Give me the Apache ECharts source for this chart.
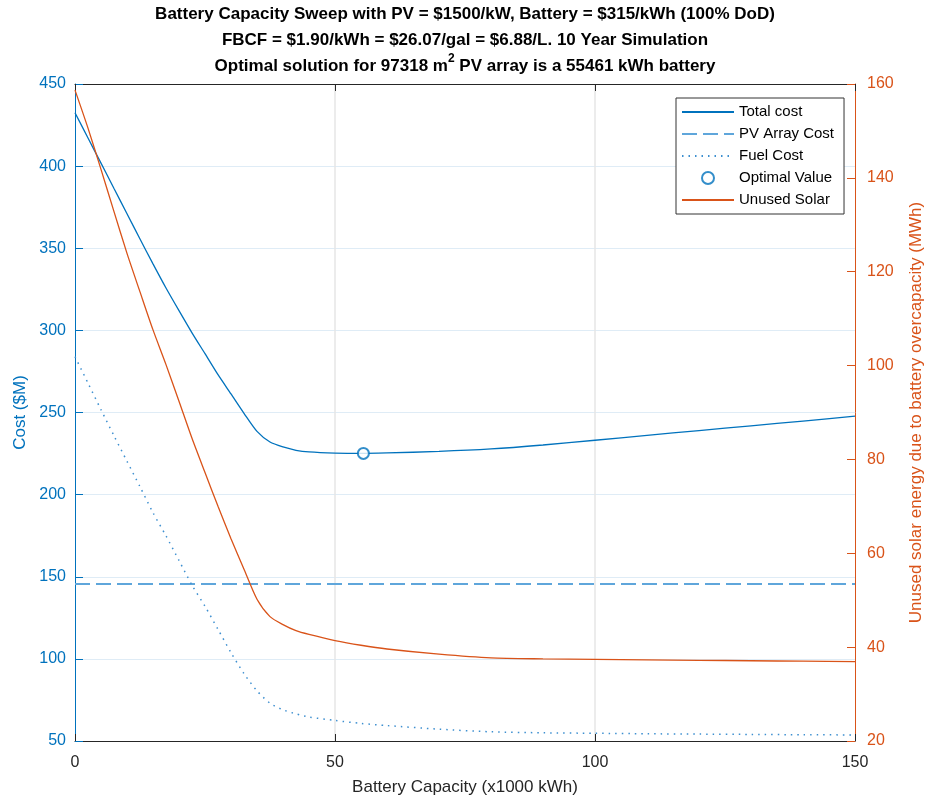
<!DOCTYPE html>
<html>
<head>
<meta charset="utf-8">
<title>Battery Capacity Sweep</title>
<script src="https://cdn.jsdelivr.net/npm/echarts@6/dist/echarts.min.js"></script>
<style>
    html, body { margin: 0; padding: 0; background: #fff; }
    #charts { width: 930px; height: 803px; }
</style>
</head>
<body>
<div id="charts"></div>
<script>
// battery capacity, x1000 kWh
var batteryCap = [0, 2.5, 5, 7.5, 10, 12.5, 15, 17.5, 20, 22.5, 25, 27.5, 30, 32.5, 35, 37.5, 40, 42.5, 45, 50, 55, 60, 70, 80, 90, 100, 110, 120, 130, 140, 150];
// $M
var totalCost = [432.5, 417.1, 401.8, 386.4, 371, 355.6, 340.5, 325.8, 312, 298.5, 285.8, 273, 261.3, 249.5, 238.5, 232, 229, 227, 226, 225.3, 225.1, 225.4, 226.3, 227.8, 230.2, 233.1, 236.1, 239, 241.9, 244.8, 247.8];
var fuelCost = [284, 267.9, 251.7, 235.8, 220.3, 204.8, 189, 174.9, 159.9, 144.9, 132, 118, 103.8, 91, 80.5, 73, 69, 66.5, 64.6, 62.5, 60.7, 59.4, 57.2, 55.6, 55, 54.7, 54.4, 54.2, 54, 53.8, 53.7];
// MWh
var unusedSolar = [158.7, 150.6, 141.8, 132.8, 123.9, 115.7, 107.6, 100.2, 92.4, 84.5, 77.2, 70.0, 63.1, 56.6, 50.2, 46.5, 44.8, 43.5, 42.7, 41.4, 40.4, 39.6, 38.5, 37.7, 37.5, 37.4, 37.3, 37.2, 37.1, 37.0, 36.9];
var pvCapX = [0, 150];
var pvCost = [145.6, 145.6];
var optimalX = [55.461];
var optimalCost = [225.1];

var xTicks = [0, 50, 100, 150];
var costTicks = [50, 450, 50];     // min, max, step
var solarTicks = [20, 160, 20];

function pairs(xs, ys) {
    var out = [];
    for (var i = 0; i < xs.length; i++) {
        out.push([xs[i], ys[i]]);
    }
    return out;
}

var blue = '#0072BD';
var orange = '#D95319';
var dark = '#262626';
var font = "'Liberation Sans', Arial, sans-serif";
// hide the round marker echarts puts on line legend icons
var noDot = { opacity: 0 };

var chartDom = document.getElementById('charts');
var myChart = echarts.init(chartDom);
var option = {
    animation: false,
    textStyle: { fontFamily: font },
    title: {
        left: 'center',
        top: -4,
        text: 'Battery Capacity Sweep with PV = $1500/kW, Battery = $315/kWh (100% DoD)\n' +
            'FBCF = $1.90/kWh = $26.07/gal = $6.88/L. 10 Year Simulation\n' +
            'Optimal solution for 97318 m{sup|2} PV array is a 55461 kWh battery',
        textStyle: {
            fontFamily: font,
            fontSize: 17,
            fontWeight: 'bold',
            color: '#000',
            lineHeight: 26,
            rich: {
                sup: {
                    fontFamily: font,
                    fontSize: 12,
                    fontWeight: 'bold',
                    color: '#000',
                    verticalAlign: 'top',
                    lineHeight: 16
                }
            }
        }
    },
    legend: {
        orient: 'vertical',
        left: 676,
        top: 98,
        padding: [6, 10, 6, 5],
        itemWidth: 52,
        itemHeight: 12,
        itemGap: 6,
        backgroundColor: '#fff',
        borderColor: '#333',
        borderWidth: 1,
        textStyle: { fontFamily: font, fontSize: 15, color: '#000', lineHeight: 16 },
        data: [
            { name: 'Total cost', itemStyle: noDot },
            { name: 'PV Array Cost', itemStyle: noDot },
            { name: 'Fuel Cost', itemStyle: noDot },
            { name: 'Optimal Value' },
            { name: 'Unused Solar', itemStyle: noDot }
        ]
    },
    grid: {
        left: 75,
        right: 75,
        top: 84,
        bottom: 62,
        outerBoundsMode: 'none'
    },
    xAxis: [
        {
            type: 'value',
            position: 'bottom',
            min: xTicks[0],
            max: xTicks[xTicks.length - 1],
            interval: xTicks[1] - xTicks[0],
            name: 'Battery Capacity (x1000 kWh)',
            nameLocation: 'middle',
            nameGap: 38,
            nameTextStyle: { fontFamily: font, fontSize: 17, color: dark },
            axisLine: { show: true, onZero: false, lineStyle: { color: dark, width: 1 } },
            axisTick: { show: true, inside: true, length: 7, lineStyle: { color: dark } },
            axisLabel: { fontFamily: font, fontSize: 16, color: dark, margin: 14 },
            splitLine: { show: true, showMinLine: false, showMaxLine: false, lineStyle: { color: '#E6E6E6', width: 1.5 } }
        },
        {
            type: 'value',
            position: 'top',
            min: xTicks[0],
            max: xTicks[xTicks.length - 1],
            interval: xTicks[1] - xTicks[0],
            axisLine: { show: true, onZero: false, lineStyle: { color: dark, width: 1 } },
            axisTick: { show: true, inside: true, length: 7, lineStyle: { color: dark } },
            axisLabel: { show: false },
            splitLine: { show: false }
        }
    ],
    yAxis: [
        {
            type: 'value',
            position: 'left',
            min: costTicks[0],
            max: costTicks[1],
            interval: costTicks[2],
            name: 'Cost ($M)',
            nameLocation: 'middle',
            nameGap: 46,
            nameTextStyle: { fontFamily: font, fontSize: 17, color: blue },
            axisLine: { show: true, onZero: false, lineStyle: { color: blue, width: 1 } },
            axisTick: { show: true, inside: true, length: 8, lineStyle: { color: blue } },
            axisLabel: { fontFamily: font, fontSize: 16, color: blue, margin: 9 },
            splitLine: { show: true, showMinLine: false, showMaxLine: false, lineStyle: { color: '#DFECF6', width: 1.2 } }
        },
        {
            type: 'value',
            position: 'right',
            min: solarTicks[0],
            max: solarTicks[1],
            interval: solarTicks[2],
            name: 'Unused solar energy due to battery overcapacity (MWh)',
            nameLocation: 'middle',
            nameGap: 53,
            nameTextStyle: { fontFamily: font, fontSize: 17, color: orange },
            axisLine: { show: true, onZero: false, lineStyle: { color: orange, width: 1 } },
            axisTick: { show: true, inside: true, length: 8, lineStyle: { color: orange } },
            axisLabel: { fontFamily: font, fontSize: 16, color: orange, margin: 12 },
            splitLine: { show: false }
        }
    ],
    series: [
        {
            name: 'Total cost',
            type: 'line',
            yAxisIndex: 0,
            data: pairs(batteryCap, totalCost),
            smooth: 0.25,
            symbol: 'none',
            color: blue,
            lineStyle: { color: blue, width: 1.3 }
        },
        {
            name: 'PV Array Cost',
            type: 'line',
            yAxisIndex: 0,
            data: pairs(pvCapX, pvCost),
            symbol: 'none',
            color: '#5FA6DB',
            lineStyle: { color: '#5FA6DB', width: 2, type: [15, 6] }
        },
        {
            name: 'Fuel Cost',
            type: 'line',
            yAxisIndex: 0,
            data: pairs(batteryCap, fuelCost),
            smooth: 0.25,
            symbol: 'none',
            color: '#3D8FD0',
            lineStyle: { color: '#3D8FD0', width: 1.5, type: [1.5, 5] }
        },
        {
            name: 'Optimal Value',
            type: 'scatter',
            yAxisIndex: 0,
            data: pairs(optimalX, optimalCost),
            symbol: 'emptyCircle',
            symbolSize: 11,
            color: blue,
            itemStyle: { color: blue, borderWidth: 1.5 },
            z: 5
        },
        {
            name: 'Unused Solar',
            type: 'line',
            yAxisIndex: 1,
            data: pairs(batteryCap, unusedSolar),
            smooth: 0.25,
            symbol: 'none',
            color: orange,
            lineStyle: { color: orange, width: 1.3 }
        }
    ]
};
option && myChart.setOption(option);
</script>
</body>
</html>
